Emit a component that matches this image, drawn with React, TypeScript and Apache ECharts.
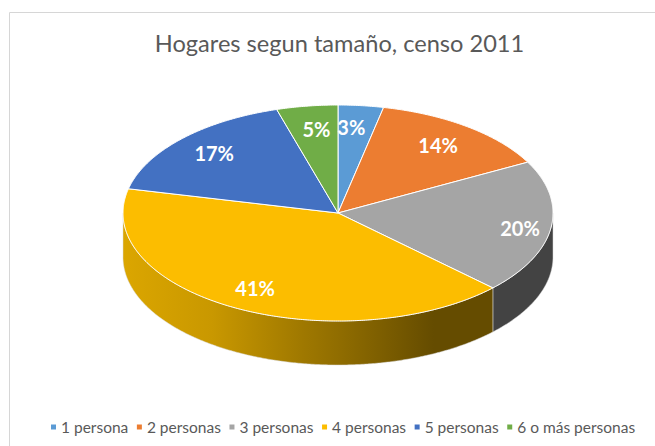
import React, { useEffect, useRef } from "react";
import * as echarts from "echarts";

const categories = ["1 persona", "2 personas", "3 personas", "4 personas", "5 personas", "6 o más personas"];
const shares = [3.4, 13.8, 20, 41.4, 16.8, 4.6];
const colors = ["#5B9BD5", "#EC7D31", "#A5A5A5", "#FCBD00", "#4371C2", "#70AD47"];
const sideColors = ["#2E4E6B", "#773F19", "#434343", "#654C00", "#223962", "#385724"];

const FONT = "Lato, 'Open Sans', sans-serif";
const CX = 338;
const CY = 213;
const RX = 215;
const RY = 108;
const DEPTH = 44;
const LABEL_RADIUS = [0.8, 0.78, 0.85, 0.8, 0.79, 0.76];
const LABEL_SHIFT_X = [-5, -1, 1, -1, 0, 2];
const LABEL_SHIFT_Y = [0, -1, 2, -1, -2, -3];

const total = shares.reduce((a, b) => a + b, 0);
const cumulative = shares.map((_, i) => shares.slice(0, i).reduce((a, b) => a + b, 0));

const px = (t: number) => CX + RX * Math.sin(t);
const py = (t: number) => CY - RY * Math.cos(t);

function arc(a: number, b: number, dy = 0): number[][] {
  const n = Math.max(2, Math.ceil(((b - a) * 180) / Math.PI) * 2);
  const out: number[][] = [];
  for (let k = 0; k <= n; k++) {
    const t = a + ((b - a) * k) / n;
    out.push([px(t), py(t) + dy]);
  }
  return out;
}

function sideFill(i: number) {
  if (i !== 3) return sideColors[i];
  return new echarts.graphic.LinearGradient(0, 0, 1, 0, [
    { offset: 0, color: "#DBA600" },
    { offset: 0.24, color: "#C99800" },
    { offset: 0.48, color: "#A07900" },
    { offset: 0.59, color: "#8F6C00" },
    { offset: 0.84, color: "#654C00" },
    { offset: 1, color: "#654C00" },
  ]);
}

function makeRenderItem(i: number) {
  return (_params: any, api: any) => {
    const value = api.value(0);
    const a = (cumulative[i] / total) * Math.PI * 2;
    const b = a + (value / total) * Math.PI * 2;
    const mid = (a + b) / 2;
    const children: any[] = [];
    // Only the front half of the disc shows a wall.
    const wallStart = Math.max(a, Math.PI / 2);
    const wallEnd = Math.min(b, (Math.PI * 3) / 2);
    if (wallEnd > wallStart) {
      children.push({
        type: "polygon",
        shape: { points: [...arc(wallStart, wallEnd), ...arc(wallStart, wallEnd, DEPTH).reverse()] },
        style: { fill: sideFill(i), stroke: "#D9D9D9", lineWidth: 0.5 },
      });
    }
    children.push({
      type: "polygon",
      shape: { points: [[CX, CY], ...arc(a, b)] },
      style: { fill: colors[i], stroke: "#FFFFFF", lineWidth: 1 },
      z2: 5,
    });
    children.push({
      type: "text",
      z2: 50,
      x: CX + RX * LABEL_RADIUS[i] * Math.sin(mid) + LABEL_SHIFT_X[i],
      y: CY - RY * LABEL_RADIUS[i] * Math.cos(mid) + LABEL_SHIFT_Y[i],
      style: {
        text: `${Math.round((value / total) * 100)}%`,
        fill: "#FFFFFF",
        font: `700 20px ${FONT}`,
        align: "center",
        verticalAlign: "middle",
      },
    });
    return { type: "group", children };
  };
}

export default function App() {
  const ref = useRef<HTMLDivElement>(null);
  useEffect(() => {
    document.body.style.margin = "0";
    const chart = echarts.init(ref.current!, undefined, { renderer: "svg" });
    chart.setOption({
      animation: false,
      backgroundColor: "#FFFFFF",
      graphic: [
        { type: "line", shape: { x1: 9.5, y1: 12.5, x2: 655, y2: 12.5 }, style: { stroke: "#D6D6D6", lineWidth: 1 }, silent: true },
        { type: "line", shape: { x1: 9.5, y1: 12.5, x2: 9.5, y2: 446 }, style: { stroke: "#D6D6D6", lineWidth: 1 }, silent: true },
        {
          type: "text",
          x: 339.5,
          y: 43,
          style: {
            text: "Hogares segun tamaño, censo 2011",
            font: `400 23.6px ${FONT}`,
            fill: "#595959",
            align: "center",
            verticalAlign: "middle",
          },
          silent: true,
        },
      ],
      legend: {
        data: categories,
        left: 46,
        top: 414,
        icon: "rect",
        itemWidth: 5,
        itemHeight: 5,
        itemGap: 8.6,
        itemStyle: { borderWidth: 0 },
        selectedMode: false,
        textStyle: { fontFamily: FONT, fontSize: 15.5, color: "#595959" },
      },
      series: categories.map((name, i) => ({
        type: "custom",
        name,
        coordinateSystem: "none",
        itemStyle: { color: colors[i] },
        silent: true,
        data: [[shares[i]]],
        renderItem: makeRenderItem(i),
      })),
    });
    return () => chart.dispose();
  }, []);
  return <div ref={ref} style={{ width: 655, height: 446 }} />;
}
